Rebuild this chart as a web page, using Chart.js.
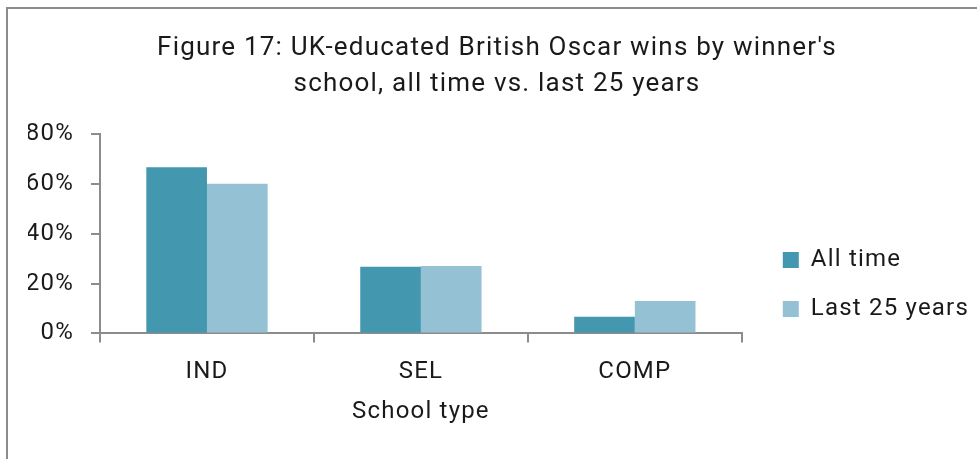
<!DOCTYPE html>
<html>
<head>
<meta charset="utf-8">
<script src="https://cdn.jsdelivr.net/npm/chart.js@4/dist/chart.umd.min.js"></script>
<style>
html,body{margin:0;padding:0;background:#fff;overflow:hidden;width:977px;height:459px}
#frame{position:absolute;left:6px;top:7px;width:1100px;height:600px;border:2px solid #8c8c8c;box-sizing:border-box}
#wrap{position:absolute;left:0;top:0;width:977px;height:459px}
</style>
</head>
<body>
<div id="frame"></div>
<div id="wrap"><canvas id="c" width="977" height="459"></canvas></div>
<script>
const titleLines = ["Figure 17: UK-educated British Oscar wins by winner's", "school, all time vs. last 25 years"];
const categories = ["IND", "SEL", "COMP"];
const seriesNames = ["All time", "Last 25 years"];
const allTime = [66.7, 26.7, 6.7];
const last25 = [60.0, 27.0, 13.0];
const yTicks = [0, 20, 40, 60, 80];

const FONT = "Roboto";
const TEXT = "#1a1a1a";
const AXIS = "#8c8c8c";
const SPACING = "1.2px";

const textSpacing = {
  id: 'textSpacing',
  afterInit(chart) { chart.ctx.letterSpacing = SPACING; },
  beforeUpdate(chart) { chart.ctx.letterSpacing = SPACING; },
  beforeDraw(chart) { chart.ctx.letterSpacing = SPACING; }
};

const legendShift = {
  id: 'legendShift',
  beforeInit(chart) {
    const orig = chart.legend.fit;
    chart.legend.fit = function () {
      orig.call(chart.legend);
      this.width += 3;
    };
  },
  afterLayout(chart) {
    const lg = chart.legend;
    lg.left += 16; lg.right += 16;
    lg.top += 50; lg.bottom += 50;
  }
};

new Chart(document.getElementById('c'), {
  type: 'bar',
  data: {
    labels: categories,
    datasets: [
      { label: seriesNames[0], data: allTime, backgroundColor: '#4397AE', borderWidth: 0 },
      { label: seriesNames[1], data: last25, backgroundColor: '#94C2D4', borderWidth: 0 }
    ]
  },
  options: {
    responsive: false,
    animation: false,
    layout: { padding: { left: 28, right: 11, top: 10, bottom: 0 } },
    datasets: { bar: { categoryPercentage: 0.567, barPercentage: 1.0 } },
    plugins: {
      title: {
        display: true,
        text: titleLines,
        color: TEXT,
        font: { family: FONT, size: 26, weight: 'normal', lineHeight: 1.385 },
        padding: { top: 20, bottom: 32 }
      },
      legend: {
        position: 'right',
        labels: {
          boxWidth: 16, boxHeight: 16, padding: 25, color: TEXT,
          font: { family: FONT, size: 24 }
        }
      },
      tooltip: { enabled: false }
    },
    scales: {
      x: {
        grid: { display: true, drawOnChartArea: false, drawTicks: true, tickLength: 9, color: AXIS, lineWidth: 2, offset: true },
        border: { display: true, color: AXIS, width: 2 },
        ticks: { color: TEXT, font: { family: FONT, size: 24 }, padding: 15 },
        title: { display: true, text: 'School type', color: TEXT, font: { family: FONT, size: 24 }, padding: { top: -4, bottom: 33 } }
      },
      y: {
        min: 0, max: 80,
        afterFit(scale) { scale.width = 72; },
        afterBuildTicks(scale) { scale.ticks = yTicks.map(v => ({ value: v })); },
        grid: { display: true, drawOnChartArea: false, drawTicks: true, tickLength: 9, color: AXIS, lineWidth: 2 },
        border: { display: true, color: AXIS, width: 2 },
        ticks: { color: TEXT, font: { family: FONT, size: 24 }, padding: 17, callback: v => v + '%' }
      }
    }
  },
  plugins: [textSpacing, legendShift]
});
</script>
</body>
</html>
